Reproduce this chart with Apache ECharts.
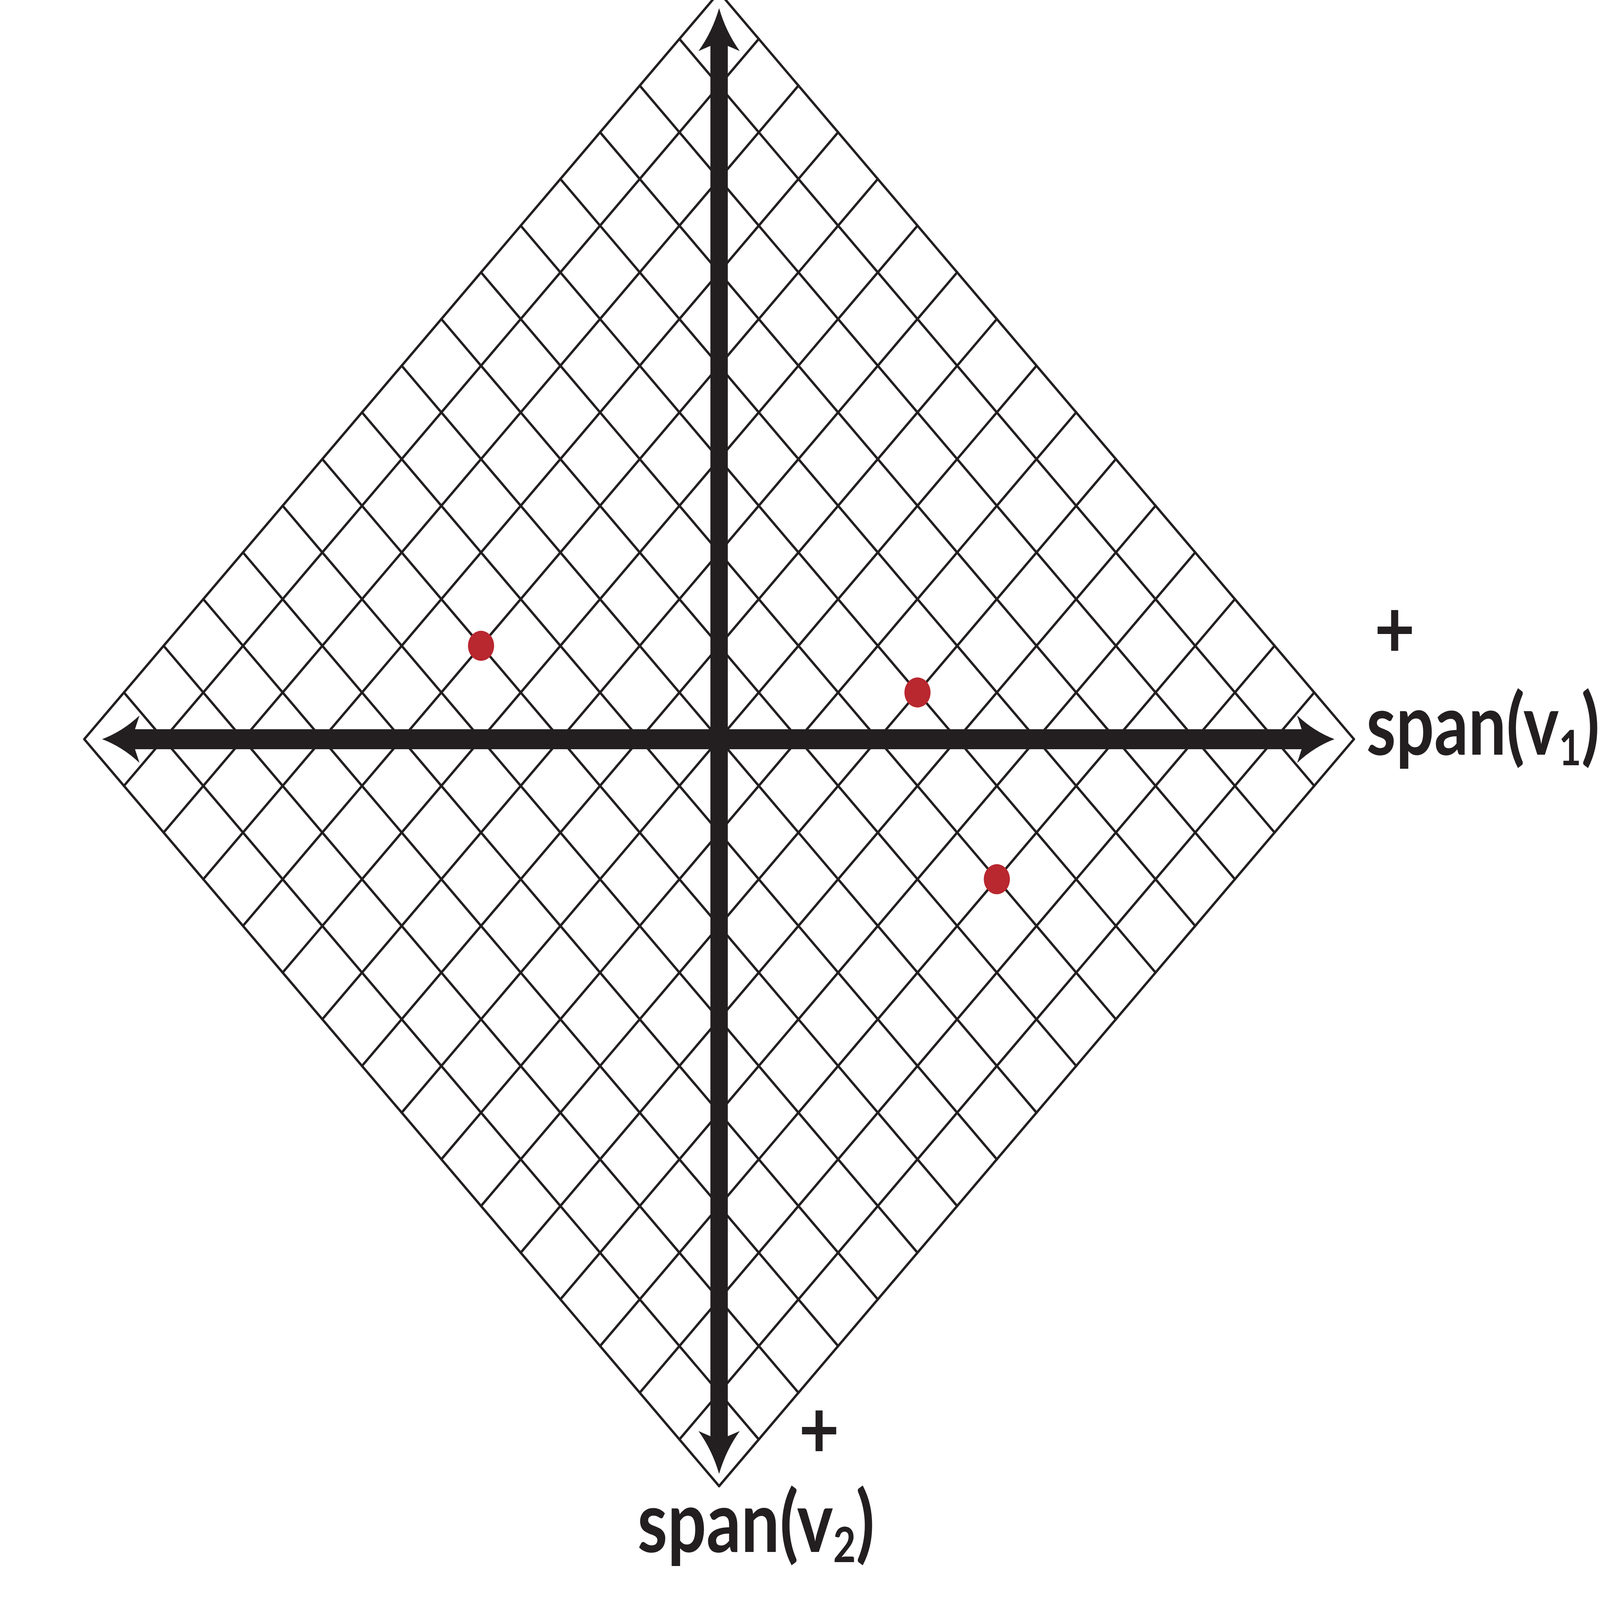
<!DOCTYPE html>
<html>
<head>
<meta charset="utf-8">
<title>span(v1) / span(v2)</title>
<script src="https://cdn.jsdelivr.net/npm/echarts@6/dist/echarts.min.js"></script>
<style>
  html, body { margin: 0; padding: 0; background: #fff; overflow: hidden; width: 100%; height: 100%; }
  #chart { width: 5696px; height: 4958px; transform-origin: 0 0; }
</style>
</head>
<body>
<div id="chart"></div>
<script>
// diagonal grid: lines u+v = c and u-v = c inside |u|+|v| <= 16
var gridOffsets = [-16, -14, -12, -10, -8, -6, -4, -2, 0, 2, 4, 6, 8, 10, 12, 14, 16];
var gridRadius = 16;

// the two spans, arrow tip to arrow tip
var span1Ends = [-15.55, 15.51];   // along u, at v = 0
var span2Ends = [-15.74, 15.66];   // along v, at u = 0

// red points
var pointU = [-6, 5, 7];
var pointV = [2, 1, -3];

var axisNames = ['span(v1)', 'span(v2)'];
var axisSigns = ['+', '+'];

var INK = '#231f20';
var RED = '#b9272f';

var dom = document.getElementById('chart');
// drawn at 5696 x 4958, then fitted to whatever window we get
dom.style.transform = 'scale(' + (window.innerWidth / 5696) + ',' + (window.innerHeight / 4958) + ')';

var chart = echarts.init(dom, null, { renderer: 'svg' });

var gridSegs = [];
gridOffsets.forEach(function (c) {
  // u + v = c
  gridSegs.push({ coords: [[(c + gridRadius) / 2, (c - gridRadius) / 2], [(c - gridRadius) / 2, (c + gridRadius) / 2]] });
  // u - v = c
  gridSegs.push({ coords: [[(c + gridRadius) / 2, (gridRadius - c) / 2], [(c - gridRadius) / 2, -(c + gridRadius) / 2]] });
});

var arrows = [
  [span1Ends[0], 0, span1Ends[1], 0],
  [0, span2Ends[0], 0, span2Ends[1]]
];

var points = pointU.map(function (u, i) { return [u, pointV[i]]; });

// double headed arrow, concave heads
function renderArrow(params, api) {
  var a = api.coord([api.value(0), api.value(1)]);
  var b = api.coord([api.value(2), api.value(3)]);
  var len = Math.sqrt((b[0] - a[0]) * (b[0] - a[0]) + (b[1] - a[1]) * (b[1] - a[1]));
  var d = [(b[0] - a[0]) / len, (b[1] - a[1]) / len];
  var n = [-d[1], d[0]];
  function P(t, s) { return (a[0] + d[0] * t + n[0] * s).toFixed(1) + ' ' + (a[1] + d[1] * t + n[1] * s).toFixed(1); }
  function Q(t, s) { return (b[0] - d[0] * t + n[0] * s).toFixed(1) + ' ' + (b[1] - d[1] * t + n[1] * s).toFixed(1); }
  var path = 'M' + P(0, 0) +
    ' Q' + P(73, 24) + ' ' + P(133, 73.5) +
    ' L' + P(117, 31) +
    ' L' + Q(117, 31) +
    ' L' + Q(133, 73.5) +
    ' Q' + Q(73, 24) + ' ' + Q(0, 0) +
    ' Q' + Q(73, -24) + ' ' + Q(133, -73.5) +
    ' L' + Q(117, -31) +
    ' L' + P(117, -31) +
    ' L' + P(133, -73.5) +
    ' Q' + P(73, -24) + ' ' + P(0, 0) + ' Z';
  return { type: 'path', shape: { pathData: path }, style: { fill: INK } };
}

function richName(name) {
  // 'span(v1)' -> main text + subscript digit
  var m = name.match(/^(.*\(v)(\d)(\))$/);
  return '{m|' + m[1] + '}{s|' + m[2] + '}{m|' + m[3] + '}';
}

var richStyle = {
  m: { fontFamily: 'Lato', fontWeight: 'bold', fontSize: 262, lineHeight: 300, fill: INK, verticalAlign: 'middle' },
  s: { fontFamily: 'Lato', fontWeight: 'bold', fontSize: 150, lineHeight: 118, fill: INK, verticalAlign: 'bottom' }
};

chart.setOption({
  animation: false,
  backgroundColor: '#ffffff',
  grid: { left: 300, right: 876, top: 0, bottom: 353 },
  xAxis: { type: 'value', min: -16, max: 16, show: false },
  yAxis: { type: 'value', min: -16, max: 15.834, show: false },
  series: [
    {
      type: 'lines',
      coordinateSystem: 'cartesian2d',
      silent: true,
      z: 1,
      lineStyle: { color: INK, width: 8, opacity: 1, cap: 'round' },
      data: gridSegs
    },
    {
      type: 'custom',
      silent: true,
      z: 2,
      renderItem: renderArrow,
      data: arrows
    },
    {
      type: 'scatter',
      silent: true,
      z: 3,
      symbol: 'circle',
      symbolSize: 93,
      itemStyle: { color: RED, opacity: 1 },
      data: points
    }
  ],
  graphic: [
    {
      type: 'text', x: 4864, y: 2238, scaleX: 0.915,
      style: { text: richName(axisNames[0]), rich: richStyle, align: 'left', verticalAlign: 'middle' }
    },
    {
      type: 'text', x: 2269, y: 4708, scaleX: 0.93,
      style: { text: richName(axisNames[1]), rich: richStyle, align: 'left', verticalAlign: 'middle' }
    },
    {
      type: 'text', x: 4965, y: 1940,
      style: { text: axisSigns[0], fontFamily: 'Lato', fontWeight: 'bold', fontSize: 250, fill: INK, align: 'center', verticalAlign: 'middle' }
    },
    {
      type: 'text', x: 2916, y: 4420,
      style: { text: axisSigns[1], fontFamily: 'Lato', fontWeight: 'bold', fontSize: 250, fill: INK, align: 'center', verticalAlign: 'middle' }
    }
  ]
});
</script>
</body>
</html>
